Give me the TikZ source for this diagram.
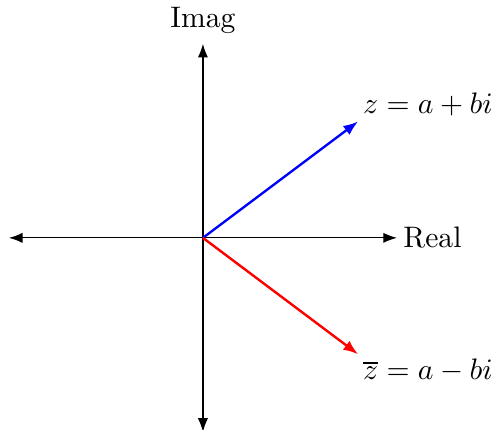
\documentclass[tikz,border=0pt]{standalone}
\usepackage{amsmath}
\usepackage{tikz}
\usepackage{xcolor}
\usetikzlibrary{arrows.meta, positioning}

\begin{document}
\begin{tikzpicture}[
		x=0.46cm, y=0.46cm,
		axis/.style={{Latex[length=4.6pt]}-{Latex[length=4.6pt]}, draw=black},
		vecarrow/.style={-{Latex[length=5pt]}, thick},
		veclabel/.style={inner sep=1.5pt}
	]
		\useasboundingbox (-5.23,-4.95) rectangle (7.63,6.13);
		\coordinate (origin) at (0,0);
		\coordinate (xleft) at (-5,0);
		\coordinate (xright) at (5,0);
		\coordinate (ybottom) at (0,-5);
		\coordinate (ytop) at (0,5);
		\coordinate (zpt) at (4,3);
		\coordinate (zbarpt) at (4,-3);
		\draw[axis] (xleft) -- (xright);
		\draw[axis] (ybottom) -- (ytop);
		\node[right=0pt of xright, inner sep=2pt] (real) {Real};
		\node[above=0pt of ytop] (imag) {Imag};
		\draw[vecarrow, blue] (origin) -- (zpt);
		\draw[vecarrow, red] (origin) -- (zbarpt);
		\node[veclabel, anchor=south west] (zlabel) at (zpt) {$z = a + bi$};
		\node[veclabel, anchor=north west] (zbarlabel) at (zbarpt) {$\overline{z} = a - bi$};
	\end{tikzpicture}
\end{document}
